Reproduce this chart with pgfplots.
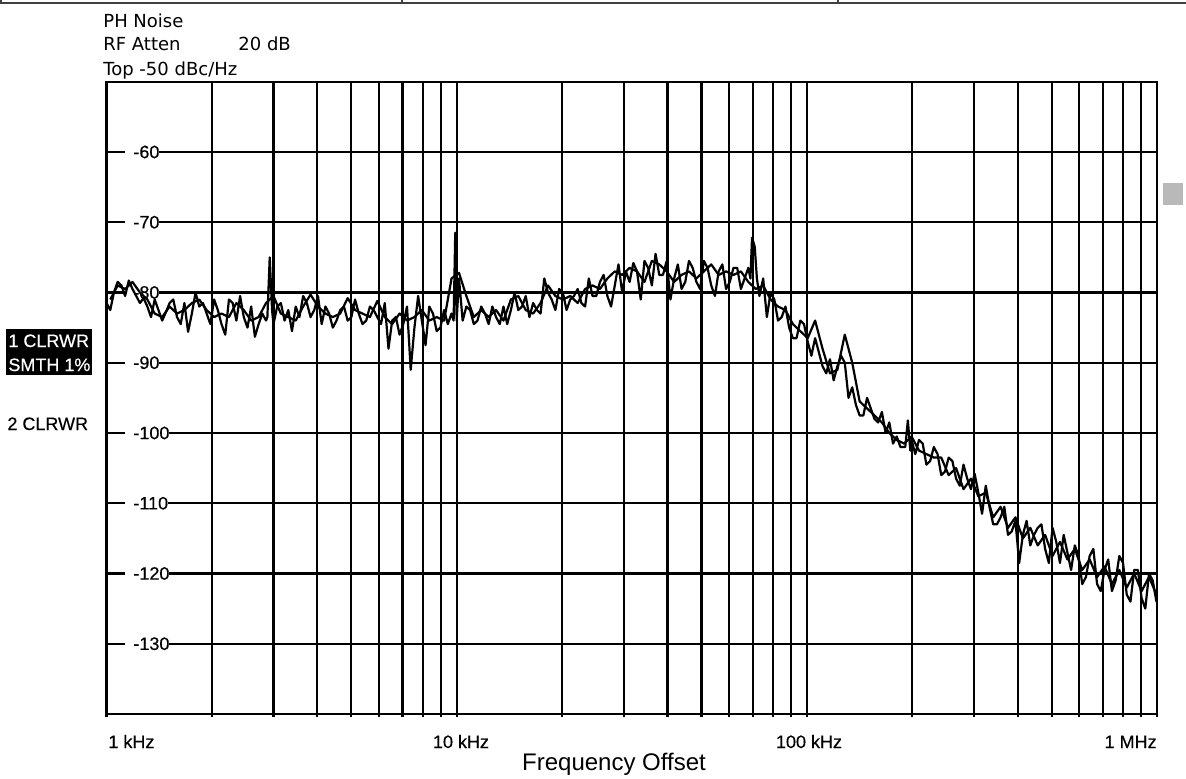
\documentclass[border=0pt]{standalone}
\usepackage{pgfplots}
\pgfplotsset{compat=1.18}
\usepackage{fontspec}
\setmainfont{Liberation Sans}
\newfontfamily\hdrfont{DejaVu Sans}
\newfontfamily\labfont[FakeBold=0.4]{Liberation Sans}
\newcommand\lab{\labfont\fontsize{9}{10}\selectfont}
\newcommand\hdr{\hdrfont\fontsize{9}{10}\selectfont}

\begin{document}
\begin{tikzpicture}
% screen layer: 1 px = 0.5pt, y grows downwards
\begin{scope}[x=0.5pt,y=-0.5pt]
  \path[use as bounding box] (0,0) rectangle (1186,778);
  % header strip
  \draw[line width=1pt,black!75] (0,3) -- (1186,3);
  \draw[line width=1pt,black!75] (1,0) -- (1,4) (402,0) -- (402,4) (838,0) -- (838,4);
  % measurement settings
  \node[anchor=base west,inner sep=0pt,font=\hdr] at (103,27) {PH Noise};
  \node[anchor=base west,inner sep=0pt,font=\hdr] at (103,50) {RF Atten};
  \node[anchor=base west,inner sep=0pt,font=\hdr] at (238,50) {20 dB};
  \node[anchor=base west,inner sep=0pt,font=\hdr] at (103,75) {Top -50 dBc/Hz};
  % trace annotations
  \fill[black] (6,329) rectangle (92,375);
  \node[anchor=base west,inner sep=0pt,font=\lab,text=white] at (8,347) {1 CLRWR};
  \node[anchor=base west,inner sep=0pt,font=\lab,text=white] at (8,371) {SMTH 1\%};
  \node[anchor=base west,inner sep=0pt,font=\lab] at (7,430) {2 CLRWR};
  % status marker
  \fill[gray!55] (1163,183) rectangle (1183,205);
  % frequency labels
  \node[anchor=base west,inner sep=0pt,font=\lab] at (108,748) {1 kHz};
  \node[anchor=base,inner sep=0pt,font=\lab] at (461,748) {10 kHz};
  \node[anchor=base,inner sep=0pt,font=\lab] at (809,748) {100 kHz};
  \node[anchor=base east,inner sep=0pt,font=\lab] at (1157,748) {1 MHz};
  \node[anchor=base,inner sep=0pt,font=\fontsize{12}{14}\selectfont] at (614,770) {Frequency Offset};
\end{scope}

\begin{axis}[
  at={(53.25pt,-357pt)}, anchor=south west,
  scale only axis, width=525.25pt, height=316.15pt,
  xmode=log, xmin=1000, xmax=1000000, ymin=-140, ymax=-50,
  axis line style={line width=1.1pt},
  xtick={1000,10000,100000,1000000},
  minor xtick={2000,3000,4000,5000,6000,7000,8000,9000,
    20000,30000,40000,50000,60000,70000,80000,90000,
    200000,300000,400000,500000,600000,700000,800000,900000},
  xticklabels={},
  ytick={-130,-120,-110,-100,-90,-80,-70,-60},
  yticklabels={},
  ytick style={draw=none},
  xtick pos=bottom,
  tick align=outside,
  major tick length=1.5pt, minor tick length=1.5pt,
  every tick/.style={black,line width=1.1pt},
  xmajorgrids, xminorgrids, ymajorgrids,
  major grid style={black,line width=1.1pt},
  minor grid style={black,line width=1.1pt},
]
% level labels sit on the grid, below the traces
\node[fill=white,inner sep=0pt,anchor=west,xshift=9.25pt,font=\lab] at (axis cs:1000,-60) {\hspace{4pt}-60};
\node[fill=white,inner sep=0pt,anchor=west,xshift=9.25pt,font=\lab] at (axis cs:1000,-70) {\hspace{4pt}-70};
\node[fill=white,inner sep=0pt,anchor=west,xshift=9.25pt,font=\lab] at (axis cs:1000,-80) {\hspace{4pt}-80};
\node[fill=white,inner sep=0pt,anchor=west,xshift=9.25pt,font=\lab] at (axis cs:1000,-90) {\hspace{4pt}-90};
\node[fill=white,inner sep=0pt,anchor=west,xshift=9.25pt,font=\lab] at (axis cs:1000,-100) {\hspace{4pt}-100};
\node[fill=white,inner sep=0pt,anchor=west,xshift=9.25pt,font=\lab] at (axis cs:1000,-110) {\hspace{4pt}-110};
\node[fill=white,inner sep=0pt,anchor=west,xshift=9.25pt,font=\lab] at (axis cs:1000,-120) {\hspace{4pt}-120};
\node[fill=white,inner sep=0pt,anchor=west,xshift=9.25pt,font=\lab] at (axis cs:1000,-130) {\hspace{4pt}-130};

% trace 2: clear/write, unsmoothed
\addplot[black,line width=1.1pt,line join=round] table {
f L
1000 -81.5
1025 -82.5
1050 -80.0
1076 -78.5
1103 -79.0
1130 -80.5
1158 -78.3
1186 -79.5
1216 -80.5
1246 -81.5
1276 -80.8
1308 -82.0
1340 -83.5
1373 -81.0
1407 -82.5
1442 -84.0
1478 -82.8
1514 -81.5
1551 -81.0
1590 -83.5
1629 -84.5
1669 -81.5
1710 -85.6
1753 -83.0
1796 -80.0
1840 -82.0
1886 -81.5
1932 -83.0
1980 -84.5
2029 -81.0
2079 -82.5
2130 -84.5
2183 -86.0
2237 -81.0
2292 -81.5
2349 -84.0
2407 -80.5
2466 -83.5
2527 -85.0
2589 -82.0
2653 -86.3
2719 -84.5
2786 -83.0
2855 -84.0
2880 -83.5
2925 -75.0
2970 -82.5
2998 -84.5
3072 -82.0
3147 -81.5
3225 -84.0
3305 -82.5
3386 -85.5
3470 -82.0
3556 -83.5
3644 -80.5
3734 -81.5
3826 -83.5
3920 -82.5
4017 -80.5
4116 -84.5
4218 -82.0
4322 -83.0
4429 -85.0
4538 -84.0
4650 -82.5
4765 -82.0
4883 -84.0
5003 -83.5
5127 -81.0
5253 -83.0
5383 -84.5
5516 -84.0
5652 -82.0
5792 -82.5
5935 -83.5
6081 -84.5
6232 -81.5
6386 -88.0
6543 -84.0
6705 -83.5
6870 -86.0
7040 -84.5
7214 -82.0
7392 -91.0
7575 -85.0
7762 -80.5
7953 -84.0
8150 -87.5
8351 -82.0
8557 -83.0
8769 -85.5
8985 -85.0
9207 -82.5
9434 -84.5
9667 -83.0
9800 -84.0
9906 -71.5
10000 -84.0
10151 -78.0
10401 -84.0
10658 -82.0
10921 -82.5
11191 -84.5
11467 -84.0
11751 -82.0
12041 -83.0
12338 -84.5
12643 -82.0
12955 -83.5
13275 -84.5
13603 -82.0
13939 -84.5
14283 -82.5
14636 -80.0
14997 -82.5
15367 -82.0
15747 -80.5
16136 -83.5
16535 -81.5
16943 -82.5
17361 -83.0
17790 -78.0
18229 -80.0
18679 -81.0
19141 -82.5
19613 -79.5
20098 -80.0
20594 -82.5
21103 -81.0
21624 -80.5
22158 -79.5
22705 -81.5
23266 -82.0
23840 -78.0
24429 -80.5
25032 -80.5
25651 -78.5
26283 -77.5
26933 -80.5
27598 -82.0
28280 -79.0
28978 -76.0
29694 -80.0
30426 -77.0
31178 -78.5
31948 -75.8
32737 -77.0
33545 -81.0
34374 -75.5
35222 -76.5
36093 -79.0
36983 -74.5
37897 -77.5
38833 -77.5
39792 -75.5
40774 -81.0
41782 -78.0
42813 -76.0
43871 -79.5
44954 -78.5
46065 -75.5
47201 -76.5
48368 -78.5
49561 -79.5
50786 -75.5
52040 -76.5
53326 -79.0
54641 -80.5
55992 -77.0
57374 -76.0
58792 -79.5
60242 -78.5
61731 -76.5
63254 -76.5
64818 -79.5
66417 -78.0
68059 -76.5
69000 -78.0
69738 -72.2
71000 -73.5
72000 -78.0
73225 -80.5
75035 -78.0
76886 -83.5
78786 -80.0
80730 -81.0
82726 -84.0
84767 -83.5
86862 -82.0
89005 -85.0
91205 -86.5
93456 -86.5
95766 -84.0
98128 -84.5
100554 -87.0
103035 -89.0
105582 -86.5
108186 -88.5
110861 -90.5
113596 -91.5
116404 -89.5
119276 -92.5
122224 -90.5
125239 -89.0
128335 -90.0
131501 -95.0
134752 -93.5
138076 -96.0
141490 -97.5
144980 -97.5
148564 -95.0
152229 -96.5
155992 -98.0
159841 -98.5
163792 -97.0
167833 -100.0
171982 -98.5
176224 -101.5
180581 -100.5
185036 -102.0
191000 -102.0
194287 -98.2
197500 -102.5
199090 -101.0
204002 -103.0
209045 -101.0
214202 -101.5
219497 -104.5
224912 -104.0
230472 -102.0
236157 -103.0
241995 -106.0
247965 -105.5
254095 -103.5
260364 -104.0
266800 -106.5
273382 -107.5
280140 -104.5
287051 -106.5
294147 -108.0
301404 -105.8
308854 -108.5
316474 -111.5
324297 -107.5
332297 -110.5
340512 -113.0
348912 -113.0
357537 -112.0
366358 -110.5
375414 -114.5
384676 -114.0
394185 -112.5
403910 -118.5
413894 -114.5
424105 -112.5
434589 -116.0
445311 -114.5
456318 -113.5
467576 -113.0
479134 -116.5
490955 -118.5
503091 -113.5
515503 -115.5
528245 -118.5
541278 -114.5
554658 -117.0
568342 -119.5
582390 -116.0
596759 -117.5
611510 -121.5
626597 -120.5
642086 -117.5
657927 -116.5
674190 -121.5
690823 -122.5
707900 -119.5
725364 -118.0
743295 -122.5
761633 -121.0
780459 -117.5
799714 -118.5
819482 -123.0
839700 -124.0
860457 -119.5
881685 -119.5
903480 -123.5
925769 -125.0
948654 -120.0
972058 -121.0
996087 -124.0
1000000 -123.0
};

% trace 1: clear/write, 1 % smoothing
\addplot[black,line width=1.1pt,line join=round] table {
f L
1025 -81.0
1076 -79.0
1130 -79.5
1186 -78.5
1246 -80.0
1308 -81.0
1373 -83.0
1442 -83.5
1514 -82.0
1590 -83.0
1669 -82.5
1753 -81.5
1840 -81.0
1932 -82.5
2029 -83.5
2130 -83.0
2237 -83.5
2349 -81.5
2466 -82.5
2589 -84.0
2719 -83.5
2855 -81.5
2998 -80.5
3147 -83.0
3305 -83.5
3470 -84.0
3644 -82.0
3826 -80.3
4017 -82.0
4218 -83.0
4429 -83.5
4650 -83.0
4883 -80.8
5127 -82.5
5383 -83.0
5652 -83.5
5935 -81.2
6232 -83.5
6543 -84.5
6870 -83.0
7214 -84.0
7575 -83.5
7953 -82.5
8351 -84.0
8769 -83.5
9207 -84.0
9667 -78.0
10151 -77.2
10658 -80.5
11191 -83.5
11751 -82.5
12338 -83.5
12955 -82.5
13603 -84.0
14283 -81.0
14997 -80.5
15747 -82.5
16535 -83.0
17361 -81.5
18229 -79.0
19141 -80.5
20098 -81.0
21103 -80.5
22158 -81.5
23266 -79.5
24429 -79.0
25651 -79.5
26933 -78.0
28280 -77.0
29694 -77.5
31178 -76.5
32737 -77.0
34374 -78.5
36093 -75.5
37897 -76.0
39792 -77.0
41782 -78.5
43871 -77.5
46065 -77.0
48368 -78.0
50786 -77.0
53326 -76.0
55992 -77.5
58792 -77.0
61731 -77.5
64818 -77.0
68059 -78.5
71462 -79.5
75035 -79.0
78786 -81.0
82726 -82.0
86862 -82.5
91205 -84.5
95766 -85.5
100554 -86.5
105582 -84.0
110861 -88.0
116404 -91.5
122224 -91.0
128335 -86.0
134752 -90.0
141490 -95.5
148564 -96.5
155992 -97.5
163792 -98.5
171982 -100.0
180581 -101.0
189610 -101.5
199090 -100.5
209045 -102.5
219497 -103.0
230472 -103.5
241995 -103.5
254095 -106.0
266800 -105.0
280140 -108.0
294147 -106.5
308854 -109.0
324297 -108.5
340512 -112.0
357537 -110.5
375414 -113.5
394185 -112.0
413894 -115.0
434589 -113.5
456318 -116.0
479134 -114.5
503091 -117.5
528245 -115.5
554658 -118.0
582390 -116.5
611510 -119.5
642086 -118.0
674190 -120.5
707900 -119.0
743295 -121.5
780459 -119.5
819482 -122.0
860457 -120.0
903480 -122.5
948654 -120.5
996087 -123.0
};
\end{axis}
\end{tikzpicture}
\end{document}
